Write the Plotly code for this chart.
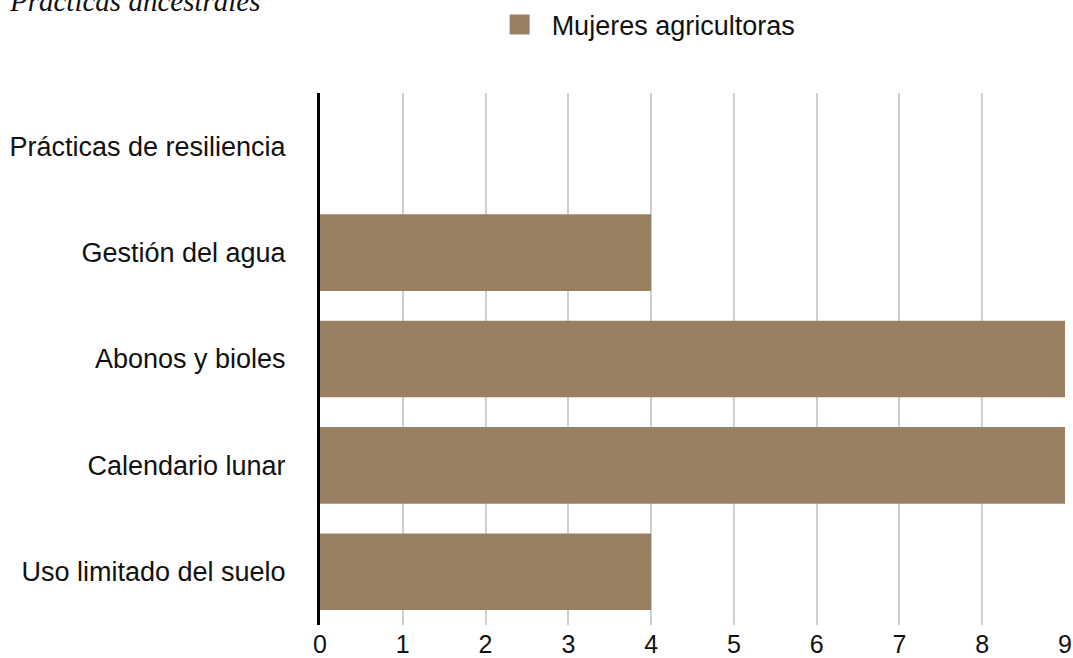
import plotly.graph_objects as go

categories = ["Prácticas de resiliencia", "Gestión del agua", "Abonos y bioles",
              "Calendario lunar", "Uso limitado del suelo"]
mujeres = [None, 4, 9, 9, 4]
x_ticks = [0, 1, 2, 3, 4, 5, 6, 7, 8, 9]
series_name = "Mujeres agricultoras"
title_text = "Prácticas ancestrales"

BAR = "#9a8062"
FONT = "Liberation Sans, Arial, Helvetica, sans-serif"
FS = 27

fig = go.Figure()
fig.add_trace(go.Bar(
    y=categories, x=mujeres, orientation="h",
    marker=dict(color=BAR, line=dict(width=0)),
    name=series_name, showlegend=False,
))
# legend entry (larger square swatch)
fig.add_trace(go.Scatter(
    x=[None], y=[None], mode="markers", name=series_name,
    marker=dict(symbol="square", size=20, color=BAR, line=dict(color=BAR, width=4)),
    showlegend=True,
))

fig.update_layout(
    width=1073, height=658,
    margin=dict(l=320, r=8, t=93, b=33, autoexpand=False),
    paper_bgcolor="white", plot_bgcolor="white",
    font=dict(family=FONT, size=FS, color="#111111"),
    bargap=0.28,
    showlegend=True,
    legend=dict(orientation="h", x=0.225, xanchor="left", y=1.128, yanchor="middle",
                itemwidth=54, font=dict(size=FS, color="#111111"),
                bgcolor="rgba(0,0,0,0)"),
    xaxis=dict(range=[0, 9], tickvals=x_ticks, showgrid=True, gridcolor="#cfcfcf",
               gridwidth=1.5, zeroline=False, showline=False, ticks="",
               automargin=False, ticklabelstandoff=2,
               tickfont=dict(size=25, color="#111111")),
    yaxis=dict(categoryorder="array", categoryarray=categories, autorange="reversed",
               showgrid=False, zeroline=False, showline=True, linecolor="black",
               linewidth=3, ticks="", ticklabelstandoff=26, automargin=False,
               tickfont=dict(size=FS, color="#111111")),
    annotations=[dict(
        text="<i>" + title_text + "</i>", xref="paper", yref="paper",
        x=(7 - 320) / 745, y=1.139, xanchor="left", yanchor="bottom", showarrow=False,
        font=dict(family="Liberation Serif, Times New Roman, serif", size=29, color="#111111"),
    )],
)

fig.write_html("out.html", config={"displayModeBar": False},
               post_script="document.body.style.margin='0';document.body.style.overflow='hidden';")
